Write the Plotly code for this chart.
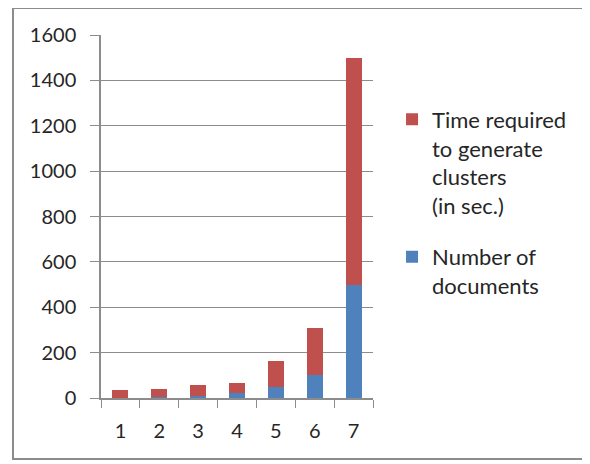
import plotly.graph_objects as go

categories = ["1", "2", "3", "4", "5", "6", "7"]
num_documents = [2, 5, 10, 20, 50, 100, 500]
time_required = [32, 35, 46, 45, 113, 209, 1000]
y_ticks = [0, 200, 400, 600, 800, 1000, 1200, 1400, 1600]

blue = "#4F81BD"
red = "#C0504D"
grid = "#8C8C8C"
font_family = "Lato, 'Open Sans', sans-serif"

fig = go.Figure()
fig.add_trace(go.Bar(x=categories, y=num_documents, name="Number of<br>documents",
                     marker=dict(color=blue, line=dict(width=0)), legendgroup="a",
                     legendrank=2))
fig.add_trace(go.Bar(x=categories, y=time_required,
                     name="Time required<br>to generate<br>clusters<br>(in sec.)",
                     marker=dict(color=red, line=dict(width=0)), legendgroup="b",
                     legendrank=1))

fig.update_layout(
    width=582, height=456,
    barmode="stack", bargap=0.59,
    paper_bgcolor="white", plot_bgcolor="white",
    margin=dict(l=93, r=217, t=27, b=66),
    font=dict(family=font_family, size=20, color="#262626"),
    legend=dict(x=1.07, xanchor="left", y=0.825, yanchor="top", valign="top",
                traceorder="grouped", tracegroupgap=20,
                font=dict(size=22), bgcolor="rgba(0,0,0,0)"),
    xaxis=dict(type="category", tickson="boundaries", ticks="outside", ticklen=8,
               tickcolor=grid, showline=True, linecolor=grid, linewidth=1.5,
               showgrid=False, tickfont=dict(size=20), ticklabelstandoff=14),
    yaxis=dict(range=[0, 1600], tickvals=y_ticks, ticks="outside", ticklen=9,
               tickcolor=grid, showline=True, linecolor=grid, linewidth=1.5,
               showgrid=True, gridcolor=grid, gridwidth=1, zeroline=False,
               tickfont=dict(size=20), ticklabelstandoff=10),
    shapes=[dict(type="rect", xref="paper", yref="paper",
                 x0=-0.3235, x1=1.7757, y0=-0.168, y1=1.0744,
                 line=dict(color="#8C8C8C", width=2))],
)

fig.write_html("out.html")
